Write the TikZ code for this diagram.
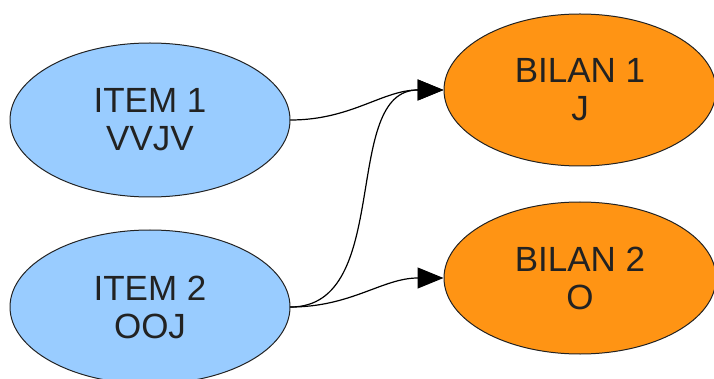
\documentclass[tikz,border=0pt]{standalone}
\usepackage{fontspec}
\setmainfont{Liberation Sans}
\usetikzlibrary{shapes.geometric,arrows.meta}
\definecolor{itemblue}{RGB}{153,204,255}
\definecolor{bilanorange}{RGB}{255,148,20}
\definecolor{inkgray}{RGB}{34,34,34}
\begin{document}
\begin{tikzpicture}[x=1pt, y=-1pt, line join=round, line cap=round,
	font=\fontsize{35}{38}\selectfont,
	item/.style={ellipse, draw=inkgray, line width=1pt, fill=itemblue, text=inkgray,
		align=center, inner sep=0pt, minimum width=280pt, minimum height=154pt},
	bilan/.style={item, fill=bilanorange, minimum width=272pt, minimum height=152pt},
	link/.style={line width=1.2pt, -{Triangle[length=26pt,width=21pt]}}]
		\useasboundingbox (0,0) rectangle (714,379);
		\clip (0,0) rectangle (714,379);
		\node[item] (item1) at (150,120) {ITEM 1\\VVJV};
		\node[item] (item2) at (150,307) {ITEM 2\\OOJ};
		\node[bilan] (bilan1) at (580,90) {BILAN 1\\J};
		\node[bilan] (bilan2) at (580,278) {BILAN 2\\O};
		\draw[link] (item1.east) to[out=0,in=180] (bilan1.west);
		\draw[link] (item2.east) to[out=0,in=180] (bilan1.west);
		\draw[link] (item2.east) to[out=0,in=180] (bilan2.west);
	\end{tikzpicture}
\end{document}
